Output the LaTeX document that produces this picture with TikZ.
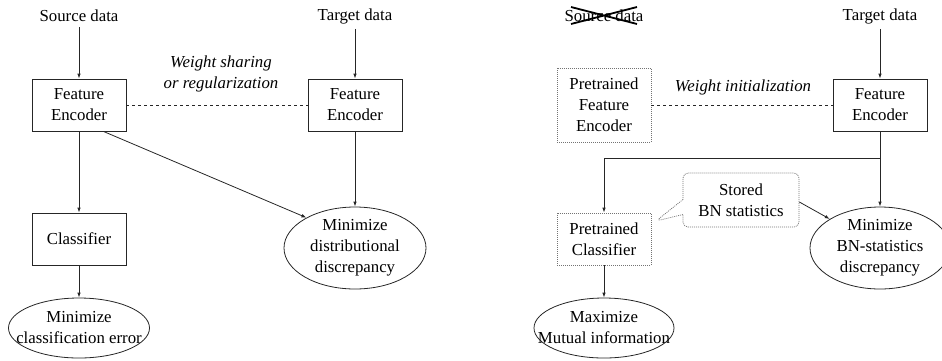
\documentclass[tikz,border=0pt]{standalone}
\usepackage{fontspec}
\setmainfont{Liberation Serif}
\usetikzlibrary{arrows.meta,shapes.geometric,shapes.callouts}
\begin{document}
\begin{tikzpicture}[x=1pt,y=-1pt,
  font=\fontsize{16.8}{21}\selectfont,
  line/.style={draw=black!85,line width=0.8pt},
  arr/.style={line,-{Latex[length=5pt,width=3.5pt]}},
  blockbox/.style={line,rectangle,minimum width=94pt,minimum height=52pt,inner sep=0pt,align=center},
  pretrained/.style={draw=black!55,line width=0.7pt,dash pattern=on 1pt off 1pt,rectangle,
    minimum width=94pt,inner sep=0pt,align=center},
  goal/.style={line,ellipse,inner sep=0pt},
  lbl/.style={align=center,inner sep=0pt},
]
\useasboundingbox (0,0) rectangle (942,360);

% ---- left: joint training with source and target data ----
\node[lbl] (src) at (79,16) {Source data};
\node[lbl] (tgt) at (355,16) {Target data};
\node[blockbox] (encS) at (79,105) {Feature\\Encoder};
\node[blockbox] (encT) at (355,105) {Feature\\Encoder};
\node[blockbox] (cls) at (79,239) {Classifier};
\node[goal,minimum width=141pt,minimum height=60pt] (lossC) at (79,328) {};
\node[lbl] at (lossC.center) {Minimize\\classification error};
\node[goal,minimum width=142pt,minimum height=82pt] (lossD) at (355,248) {};
\node[lbl] at (lossD.center) {Minimize\\distributional\\discrepancy};
\node[lbl,font=\fontsize{16.8}{21}\selectfont\itshape] (share) at (221,74) {Weight sharing\\or regularization};

\draw[arr] (src.south) ++(0,5) coordinate (srcA) (srcA) -- (encS.north);
\draw[arr] (tgt.south) ++(0,5) coordinate (tgtA) (tgtA) -- (encT.north);
\draw[line,dashed] (encS.east) -- (encT.west);
\draw[arr] (encS.south) -- (cls.north);
\draw[arr] (cls.south) -- (lossC.north);
\draw[arr] (encT.south) -- (lossD.north);
\draw[arr] ([xshift=-23pt]encS.south east) -- (lossD.148);

% ---- right: source-free adaptation ----
\node[lbl] (src2) at (604,16) {Source data};
\draw[line width=1.8pt] (571,7) -- (637,24) (571,24) -- (637,7);
\node[lbl] (tgt2) at (880,16) {Target data};
\node[pretrained,minimum height=74pt] (penc) at (604,105) {Pretrained\\Feature\\Encoder};
\node[blockbox] (enc2) at (880,105) {Feature\\Encoder};
\node[pretrained,minimum height=52pt] (pcls) at (604,239) {Pretrained\\Classifier};
\node[goal,minimum width=140pt,minimum height=60pt] (lossM) at (604,328) {};
\node[lbl] at (lossM.center) {Maximize\\Mutual information};
\node[goal,minimum width=140pt,minimum height=82pt] (lossB) at (880,248) {};
\node[lbl] at (lossB.center) {Minimize\\BN-statistics\\discrepancy};
\node[lbl,font=\fontsize{16.8}{21}\selectfont\itshape] (init) at (743,87) {Weight initialization};
\node[rectangle callout,draw=black!55,line width=0.7pt,dash pattern=on 1pt off 1pt,
  rounded corners=5pt,minimum width=116pt,minimum height=54pt,inner sep=0pt,align=center,
  callout absolute pointer={(656,221)},callout pointer width=15pt] (bn) at (741,200)
  {Stored\\BN statistics};

\draw[arr] (tgt2.south) ++(0,5) coordinate (tgt2A) (tgt2A) -- (enc2.north);
\draw[line,dashed] (penc.east) -- (enc2.west);
\coordinate (split) at (880,158);
\draw[line] (enc2.south) -- (split);
\draw[arr] (split) -- (lossB.north);
\draw[arr] (split) -| (pcls.north);
\draw[arr] (pcls.south) -- (lossM.north);
\draw[arr] ([yshift=-2pt]bn.east) -- (lossB.150);
\end{tikzpicture}
\end{document}
